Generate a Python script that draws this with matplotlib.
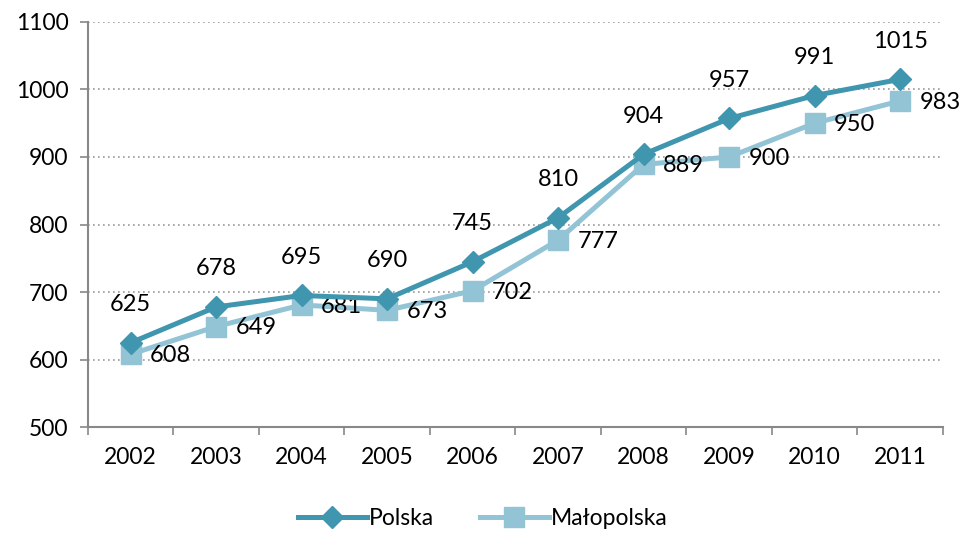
import matplotlib
matplotlib.use("Agg")
import matplotlib.pyplot as plt
import numpy as np

plt.rcParams['font.family'] = ['Lato', 'DejaVu Sans']

years = ['2002', '2003', '2004', '2005', '2006', '2007', '2008', '2009', '2010', '2011']
polska = [625, 678, 695, 690, 745, 810, 904, 957, 991, 1015]
malopolska = [608, 649, 681, 673, 702, 777, 889, 900, 950, 983]

c_pol = '#3F96AE'
c_mal = '#93C4D6'

fig = plt.figure(figsize=(9.66, 5.34), dpi=100)
ax = fig.add_axes([0.091, 0.2, 0.885, 0.759])

x = np.arange(len(years))
ax.plot(x, polska, color=c_pol, lw=3.6, marker='D', markersize=11, label='Polska', zorder=4)
ax.plot(x, malopolska, color=c_mal, lw=3.6, marker='s', markersize=14, label='Małopolska', zorder=3)

for xi, v in zip(x, polska):
    ax.annotate(str(v), (xi, v), xytext=(0, 20), textcoords='offset points',
                ha='center', va='bottom', fontsize=17)
for xi, v in zip(x, malopolska):
    ax.annotate(str(v), (xi, v), xytext=(14, -1), textcoords='offset points',
                ha='left', va='center', fontsize=17)

ax.set_xlim(-0.5, len(years) - 0.5)
ax.set_ylim(500, 1100)
ax.set_yticks(range(500, 1101, 100))
ax.set_xticks(x)
ax.set_xticklabels(years)
ax.set_xticks(np.arange(-0.5, len(years), 1), minor=True)
ax.tick_params(axis='x', which='major', length=0, pad=14, labelsize=16.5)
ax.tick_params(axis='x', which='minor', length=6, color='#888888', width=1.2)
ax.tick_params(axis='y', length=6, color='#888888', width=1.2, labelsize=16.5, pad=8)

ax.grid(axis='y', linestyle=(0, (1, 2)), color='#999999', lw=1.2)
ax.set_axisbelow(True)
for s in ['top', 'right']:
    ax.spines[s].set_visible(False)
for s in ['left', 'bottom']:
    ax.spines[s].set_color('#888888')
    ax.spines[s].set_linewidth(1.5)

fig.legend(loc='lower center', ncol=2, frameon=False, fontsize=16.5,
           bbox_to_anchor=(0.5, -0.03), handlelength=3, columnspacing=2.0,
           handletextpad=0.1)

fig.savefig('out.png', dpi=100)
